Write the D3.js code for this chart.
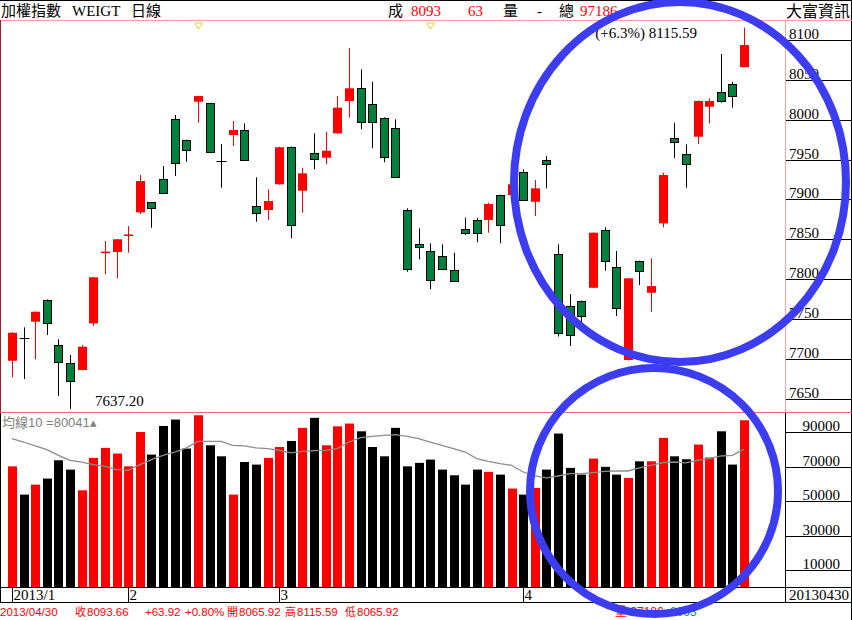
<!DOCTYPE html>
<html><head><meta charset="utf-8">
<script src="https://cdn.jsdelivr.net/npm/d3@7"></script>
<style>html,body{margin:0;padding:0;background:#fff;} svg{display:block}</style>
</head><body><svg id="c" width="852" height="620"></svg>
<script>
// ---- data ----
const openP = [7697.6,7725.7,7746.6,7773.8,7717.3,7695.1,7686.0,7744.5,7833.0,7834.0,
7854.5,7883.8,7896.4,7925.2,8000.5,7974.5,8022.6,8020.6,7948.6,7980.8,
7987.1,7891.7,7886.7,7919.0,7966.1,7910.9,7958.6,7952.3,7982.9,8023.5,
8039.4,8019.3,8002.5,7990.0,7886.7,7843.7,7835.3,7829.0,7811.4,7862.5,
7874.2,7874.2,7905.5,7905.5,7934.8,7897.1,7949.4,7831.1,7766.3,7772.5,
7789.2,7861.6,7815.6,7698.5,7822.7,7782.9,7870.0,7976.7,7956.6,7978.7,
8016.3,8035.1,8044.8,8065.92];
const highP = [7733.5,7739.5,7759.5,7774.5,7724.5,7704.8,7717.3,7802.8,7847.8,7850.5,
7866.6,7930.6,7897.0,7941.9,8005.9,7975.0,8030.0,8021.0,7969.5,7998.4,
7995.5,7927.7,7912.7,7966.0,7966.5,7939.8,7982.9,7984.9,8029.7,8089.6,
8063.2,8047.7,8003.0,8000.5,7888.8,7863.7,7844.9,7843.7,7833.1,7877.0,
7877.0,7895.9,7906.0,7919.5,7937.8,7924.3,7954.5,7843.7,7781.3,7773.0,
7858.7,7865.0,7835.3,7801.5,7823.2,7826.1,7933.5,7996.2,7969.1,8024.0,
8026.9,8082.4,8047.7,8115.59];
const lowP = [7676.8,7674.7,7699.4,7729.9,7653.3,7637.2,7685.5,7741.2,7806.0,7801.0,
7833.1,7881.7,7864.5,7907.2,7929.4,7947.3,7996.2,7958.1,7914.7,7967.0,
7949.0,7872.0,7874.2,7918.5,7851.2,7883.3,7937.8,7944.0,7982.4,8002.5,
7988.0,7964.1,7946.6,7927.0,7809.3,7824.8,7787.2,7812.5,7797.1,7855.3,
7846.2,7858.2,7844.9,7893.0,7898.7,7879.2,7913.9,7728.0,7716.1,7741.2,
7788.7,7810.5,7753.7,7698.0,7792.6,7759.1,7865.0,7951.6,7914.7,7969.5,
7995.5,8021.3,8015.1,8065.92];
const closeP = [7732.7,7725.7,7759.1,7745.3,7696.4,7672.5,7715.2,7802.3,7834.5,7850.0,
7856.0,7923.1,7888.8,7907.7,7945.3,7962.0,8029.7,7958.6,7948.6,7987.1,
7949.4,7882.6,7898.0,7965.4,7868.8,7932.7,7951.6,7961.1,8015.1,8039.4,
7996.2,7996.2,7953.6,7928.5,7812.3,7839.4,7798.9,7813.0,7797.6,7857.5,
7857.5,7894.2,7867.9,7919.0,7899.2,7913.9,7944.0,7732.0,7729.9,7753.7,
7858.2,7822.7,7764.1,7801.0,7810.2,7791.3,7930.6,7971.1,7944.0,8023.5,
8023.5,8023.5,8029.74,8093.66];
const volume = [70100,53700,59500,63000,73600,68200,56200,75000,80800,77500,
70100,90000,76900,93500,97200,80400,99700,82300,75900,53700,
72600,71100,75000,81300,84800,92400,98200,82300,93300,94900,
90400,81300,75900,92400,70100,72100,74000,68200,64900,59500,
68200,66900,65300,57200,53700,57600,68200,89100,69200,65300,
74600,69800,65300,63400,73000,73000,86600,75900,74200,82700,
75200,90400,71100,96800];
const volMA10 = [86200,84200,81900,79800,76500,73600,72600,71100,70100,68200,
67800,71100,74000,76500,78400,80800,84600,84600,84600,82300,
81900,80800,80400,79400,77900,78800,79200,79400,80400,84200,
86800,87500,88100,88500,87500,86200,84200,82300,80400,78400,
74600,73000,71700,70700,66800,64500,63400,64500,65900,65900,
66500,67200,67400,67400,69200,70700,72300,72600,72100,73600,
74600,76100,76500,80041];
const monthTickIdx = [0,10,23,44];
const monthTickLabels = ["2013/1","2","3","4"];
const priceTicks = [8100,8050,8000,7950,7900,7850,7800,7750,7700,7650];
const volTicks = [90000,70000,50000,30000,10000];
const markerIdx = [16,36];
const lowMark = {idx:5, value:7637.20, label:"7637.20"};
const highMark = {idx:63, value:8115.59, label:"(+6.3%) 8115.59"};
const lastDate = "20130430";

// ---- drawing ----
const svg = d3.select("#c");
const n = openP.length;
const x = d3.scaleLinear().domain([0, n-1]).range([12, 744]);
const yP = d3.scaleLinear().domain([7650, 8100]).range([398.7, 40]);
const yV = d3.scaleLinear().domain([10000, 90000]).range([570, 432]);
const RED = "#ff0000", GREEN = "#00803c";
const serif = "'Liberation Serif','Noto Sans CJK TC',serif";
const sans = "'Liberation Sans','Noto Sans CJK TC',sans-serif";
const data = openP.map((o,i)=>({i,o,h:highP[i],l:lowP[i],c:closeP[i],v:volume[i],ma:volMA10[i]}));
const cx = i => Math.round(x(i)) + 0.5;

function hline(y, x1, x2, col){ svg.append("line").attr("x1",x1).attr("x2",x2).attr("y1",y).attr("y2",y).attr("stroke",col).attr("stroke-width",1); }
function vline(xx, y1, y2, col){ svg.append("line").attr("x1",xx).attr("x2",xx).attr("y1",y1).attr("y2",y2).attr("stroke",col).attr("stroke-width",1); }

// frames
hline(0.5, 0, 852, "#000");
vline(851.5, 0, 620, "#000");
hline(20.5, 0, 852, "#f2a0a0");
vline(0.5, 20, 412, "#a02020");
vline(785.5, 20, 412, "#f2a0a0");
hline(412.5, 0, 852, "#e07070");
vline(0.5, 413, 603, "#000");
vline(785.5, 413, 603, "#000");
hline(587.5, 0, 852, "#000");
hline(602.5, 0, 852, "#000");

// header
const hdr = svg.append("g").attr("font-family", serif).attr("font-size", 15);
hdr.append("text").attr("x",1).attr("y",16).text("加權指數");
hdr.append("text").attr("x",72).attr("y",16).text("WEIGT");
hdr.append("text").attr("x",131).attr("y",16).text("日線");
hdr.append("text").attr("x",388).attr("y",16).text("成");
hdr.append("text").attr("x",411).attr("y",16).attr("fill",RED).text("8093");
hdr.append("text").attr("x",468).attr("y",16).attr("fill",RED).text("63");
hdr.append("text").attr("x",503).attr("y",16).text("量");
hdr.append("text").attr("x",537).attr("y",16).text("-");
hdr.append("text").attr("x",559).attr("y",16).text("總");
hdr.append("text").attr("x",580).attr("y",16).attr("fill",RED).text("97186");
hdr.append("text").attr("x",786).attr("y",17).attr("font-size",16).text("大富資訊");

// markers
svg.selectAll(".mk").data(markerIdx).enter().append("path")
  .attr("d", i => { const xx = cx(i); return `M${xx-4},23 L${xx+4},23 L${xx},29 Z`; })
  .attr("fill","none").attr("stroke","#e8d020").attr("stroke-width",1);

// price axis
const pa = svg.append("g");
priceTicks.forEach(t => {
  const yy = Math.round(yP(t)) + 0.5;
  pa.append("line").attr("x1",786).attr("x2",852).attr("y1",yy).attr("y2",yy).attr("stroke","#000");
  pa.append("text").attr("x",789).attr("y",yy-2).attr("font-family",serif).attr("font-size",15).text(t);
});

// candles
const cg = svg.append("g");
data.forEach(d => {
  const xx = cx(d.i);
  const up = d.c > d.o, down = d.c < d.o;
  cg.append("line").attr("x1",xx).attr("x2",xx).attr("y1",yP(d.h)).attr("y2",yP(d.l))
    .attr("stroke", up ? RED : "#000").attr("stroke-width",1);
  if (up) {
    const y1 = yP(d.c), y2 = yP(d.o);
    cg.append("rect").attr("x", xx-4.5).attr("width",9).attr("y", y1).attr("height", Math.max(1.5, y2-y1)).attr("fill", RED);
  } else if (down) {
    const y1 = yP(d.o), y2 = yP(d.c);
    cg.append("rect").attr("x", xx-4).attr("width",8).attr("y", Math.round(y1)+0.5).attr("height", Math.max(1, Math.round(y2-y1)))
      .attr("fill", GREEN).attr("stroke","#000").attr("stroke-width",1);
  } else {
    const yy = Math.round(yP(d.o)) + 0.5;
    cg.append("line").attr("x1",xx-5).attr("x2",xx+5).attr("y1",yy).attr("y2",yy).attr("stroke","#000");
  }
});

// high / low labels
svg.append("text").attr("x", x(lowMark.idx)+25).attr("y", yP(lowMark.value)-3)
  .attr("font-family",serif).attr("font-size",15).text(lowMark.label);
svg.append("text").attr("x", x(highMark.idx)-47).attr("y", yP(highMark.value)+10).attr("text-anchor","end")
  .attr("font-family",serif).attr("font-size",15).text(highMark.label);

// volume axis
const va = svg.append("g");
volTicks.forEach(t => {
  const yy = Math.round(yV(t)) + 0.5;
  va.append("line").attr("x1",786).attr("x2",852).attr("y1",yy).attr("y2",yy).attr("stroke","#000");
  va.append("text").attr("x",840).attr("y",yy-2).attr("text-anchor","end").attr("font-family",serif).attr("font-size",15).text(t);
});

// volume bars
const base = 587;
svg.append("g").selectAll("rect").data(data).enter().append("rect")
  .attr("x", d => Math.round(x(d.i)) - 4).attr("width", 9)
  .attr("y", d => yV(d.v)).attr("height", d => base - yV(d.v))
  .attr("fill", d => d.c > d.o ? RED : "#000");

// MA10 line
svg.append("path").datum(data)
  .attr("d", d3.line().x(d => x(d.i)).y(d => yV(d.ma)))
  .attr("fill","none").attr("stroke","#8c8c8c").attr("stroke-width",1.3);
svg.append("text").attr("x",2).attr("y",427).attr("fill","#808080").attr("font-family",sans).attr("font-size",13)
  .text("均線10 =" + volMA10[n-1] + "▴");

// x axis
const xa = svg.append("g");
monthTickIdx.forEach((i,k) => {
  const xx = cx(i);
  xa.append("line").attr("x1",xx).attr("x2",xx).attr("y1",588).attr("y2",602).attr("stroke","#000");
  xa.append("text").attr("x",xx+1).attr("y",600).attr("font-family",serif).attr("font-size",15).text(monthTickLabels[k]);
});
xa.append("text").attr("x",849).attr("y",600).attr("text-anchor","end").attr("font-family",serif).attr("font-size",15).text(lastDate);

// status line
const st = svg.append("g").attr("font-family",sans).attr("font-size",12).attr("fill",RED);
const last = n-1;
const chg = closeP[last] - closeP[last-1];
const segs = [
  [0, "2013/04/30"],
  [75, "收"], [87, closeP[last].toFixed(2)],
  [145, "+" + chg.toFixed(2)],
  [185, "+" + (chg/closeP[last-1]*100).toFixed(2) + "%"],
  [227, "開"], [239, openP[last].toFixed(2)],
  [285, "高"], [297, highP[last].toFixed(2)],
  [345, "低"], [357, lowP[last].toFixed(2)]
];
segs.forEach(s => st.append("text").attr("x", s[0]).attr("y", 616)
  .attr("font-size", /^[0-9+]/.test(s[1]) ? 11.5 : 11).text(s[1]));
st.append("text").attr("x",615).attr("y",616).text("量 97186");
st.append("text").attr("x",670).attr("y",616).attr("fill","#00a050").text("8063");

// annotation circles
svg.append("ellipse").attr("cx",680).attr("cy",182).attr("rx",166).attr("ry",180)
  .attr("fill","none").attr("stroke","#3c3cf0").attr("stroke-width",8);
svg.append("ellipse").attr("cx",654).attr("cy",491).attr("rx",124).attr("ry",123)
  .attr("fill","none").attr("stroke","#3c3cf0").attr("stroke-width",8);
</script></body></html>
